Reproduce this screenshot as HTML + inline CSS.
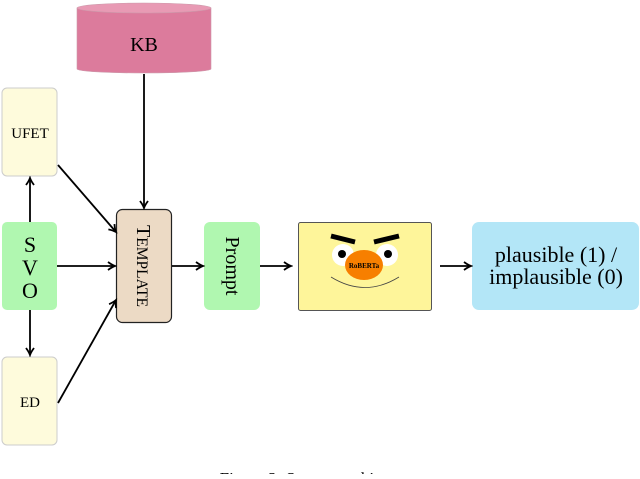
<!DOCTYPE html>
<html><head><style>body{margin:0;background:#fff;width:640px;height:474px;overflow:hidden}</style></head><body>
<svg width="640" height="474" xmlns="http://www.w3.org/2000/svg" font-family="Liberation Serif, serif">
<defs><marker id="a" markerWidth="10" markerHeight="10" refX="8" refY="5" orient="auto" markerUnits="userSpaceOnUse"><path d="M1,1 Q5,4 8,5 Q5,6 1,9" fill="none" stroke="#000" stroke-width="1.8"/></marker></defs>
<path d="M77,8 L77,69 A67,4 0 0 0 211,69 L211,8 Z" fill="#dc7b9c" stroke="#c9a" stroke-width="0.6"/>
<ellipse cx="144" cy="8" rx="67" ry="5" fill="#e89ab4" stroke="#c9a" stroke-width="0.6"/>
<text x="144" y="51" font-size="20" text-anchor="middle">KB</text>
<rect x="2" y="88" width="55" height="88" rx="5" fill="#fefbdc" stroke="#ccc"/>
<text x="30" y="138" font-size="15" text-anchor="middle">UFET</text>
<rect x="2" y="222" width="55" height="88" rx="5" fill="#b0f7b0"/>
<text x="30" y="252" font-size="22" text-anchor="middle">S</text>
<text x="30" y="275" font-size="22" text-anchor="middle">V</text>
<text x="30" y="298" font-size="22" text-anchor="middle">O</text>
<rect x="2" y="357" width="55" height="88" rx="5" fill="#fefbdc" stroke="#ccc"/>
<text x="30" y="407" font-size="15" text-anchor="middle">ED</text>
<rect x="116.5" y="209.5" width="55" height="113" rx="6" fill="#ecdac5" stroke="#222" stroke-width="1.2"/>
<text transform="translate(137,266) rotate(90)" font-size="20" text-anchor="middle">T<tspan font-size="15.5">EMPLATE</tspan></text>
<rect x="204" y="222" width="56" height="88" rx="6" fill="#b0f7b0"/>
<text transform="translate(226,266) rotate(90)" font-size="20" text-anchor="middle">Prompt</text>
<rect x="298.5" y="222.5" width="133" height="88" rx="2" fill="#fef59a" stroke="#555"/>
<path d="M331,236 L355,242" stroke="#000" stroke-width="5"/>
<path d="M374,242 L399,236" stroke="#000" stroke-width="5"/>
<circle cx="343" cy="255" r="11" fill="#fff"/><circle cx="342" cy="254" r="4" fill="#000"/>
<circle cx="387" cy="255" r="11" fill="#fff"/><circle cx="388" cy="254" r="4" fill="#000"/>
<ellipse cx="364" cy="265" rx="19" ry="15" fill="#f77f00"/>
<text x="364" y="268" font-size="7" font-weight="bold" text-anchor="middle">RoBERTa</text>
<path d="M331,277 Q365,298 399,277" fill="none" stroke="#444" stroke-width="0.8"/>
<rect x="472" y="222" width="167" height="88" rx="7" fill="#b3e6f7"/>
<text x="556" y="262" font-size="22" text-anchor="middle">plausible (1) /</text>
<text x="556" y="284" font-size="22" text-anchor="middle">implausible (0)</text>
<g stroke="#000" stroke-width="1.8" fill="none" marker-end="url(#a)">
<line x1="144" y1="74" x2="144" y2="208"/>
<line x1="30" y1="222" x2="30" y2="178"/>
<line x1="30" y1="310" x2="30" y2="355"/>
<line x1="58" y1="165" x2="116" y2="232"/>
<line x1="58" y1="403" x2="116" y2="300"/>
<line x1="57" y1="266" x2="115" y2="266"/>
<line x1="172" y1="266" x2="203" y2="266"/>
<line x1="260" y1="266" x2="291" y2="266"/>
<line x1="440" y1="266" x2="471" y2="266"/>
</g>
<text x="320" y="484" font-size="17" text-anchor="middle">Figure 2: System architecture</text>
</svg>
</body></html>
